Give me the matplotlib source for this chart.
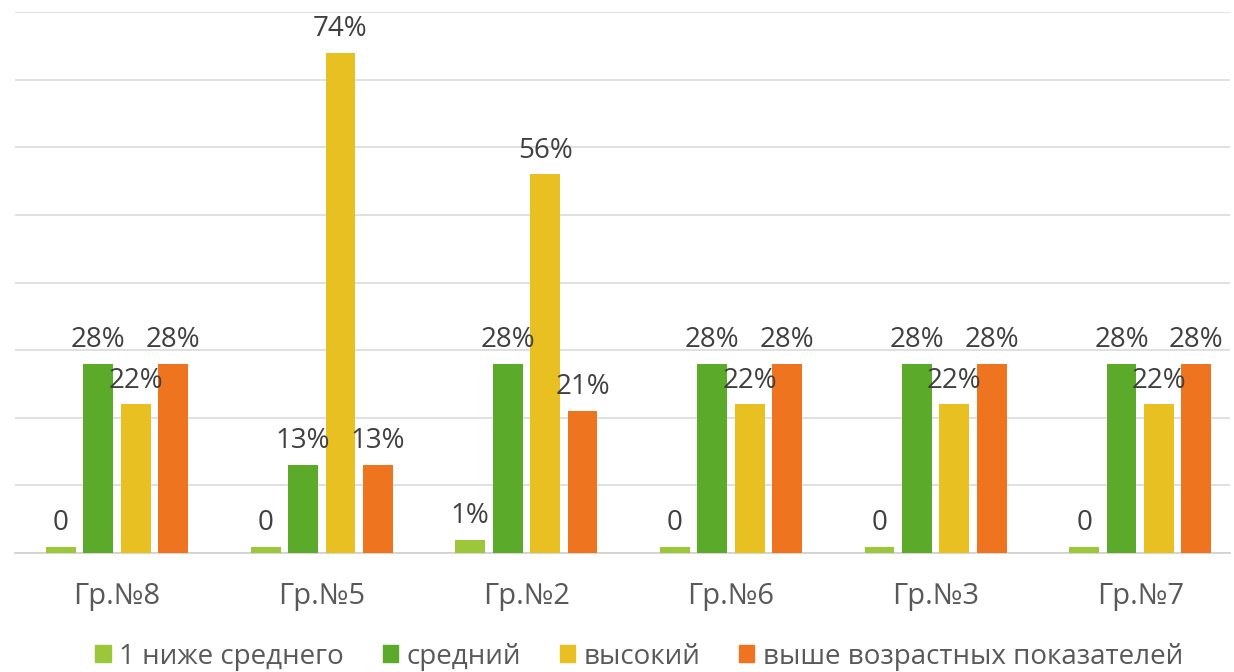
import numpy as np
import matplotlib.pyplot as plt
from matplotlib.patches import Patch

# Groups and series values (percent)
groups = ['Гр.№8', 'Гр.№5', 'Гр.№2', 'Гр.№6', 'Гр.№3', 'Гр.№7']
series_names = ['1 ниже среднего', 'средний', 'высокий', 'выше возрастных показателей']
low = [0.9, 0.9, 1.9, 0.9, 0.9, 0.9]
mid = [28, 13, 28, 28, 28, 28]
high = [22, 74, 56, 22, 22, 22]
above = [28, 13, 21, 28, 28, 28]
low_labels = ['0', '0', '1%', '0', '0', '0']

colors = ['#9DC73A', '#5BAA2A', '#E8C022', '#EE7420']

plt.rcParams['font.family'] = ['Open Sans', 'DejaVu Sans']

fig = plt.figure(figsize=(12.34, 6.72), dpi=100)
ax = fig.add_axes([0.012, 0.177, 0.985, 0.805])

x = np.arange(len(groups))
width = 0.146
step = 0.183
values = [low, mid, high, above]
for i, vals in enumerate(values):
    pos = x + (i - 1.5) * step
    bars = ax.bar(pos, vals, width, color=colors[i], zorder=3)
    for j, b in enumerate(bars):
        if i == 0:
            txt = low_labels[j]
        else:
            txt = '%d%%' % vals[j]
        ax.annotate(txt, (b.get_x() + b.get_width() / 2, b.get_height()),
                    xytext=(0, 7), textcoords='offset points',
                    ha='center', va='bottom', fontsize=20, color='#404040',
                    zorder=5)

ax.set_ylim(0, 80)
ax.set_xlim(-0.5, 5.44)
ax.set_yticks(np.arange(0, 81, 10))
ax.yaxis.grid(True, color='#DADADA', linewidth=1.2, zorder=0)
ax.tick_params(axis='y', left=False, labelleft=False)
ax.set_xticks(x)
ax.set_xticklabels(groups, fontsize=21, color='#595959')
ax.tick_params(axis='x', length=0, pad=21)
for s in ['top', 'right', 'left']:
    ax.spines[s].set_visible(False)
ax.spines['bottom'].set_color('#D0D0D0')
ax.spines['bottom'].set_linewidth(1.2)

handles = [Patch(color=c) for c in colors]
fig.legend(handles, series_names, loc='lower center', bbox_to_anchor=(0.518, -0.035),
           ncol=4, frameon=False, fontsize=20, handlelength=0.55, handleheight=0.55,
           handletextpad=0.3, columnspacing=1.4, labelcolor='#595959')

fig.savefig('out.png', dpi=100)
